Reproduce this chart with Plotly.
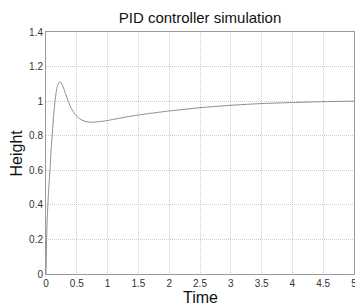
import plotly.graph_objects as go

time = [0, 0.005, 0.01, 0.02, 0.03, 0.045, 0.065, 0.08, 0.1, 0.12, 0.146, 0.165, 0.18, 0.2, 0.22, 0.24, 0.27,
        0.3, 0.33, 0.36, 0.4, 0.45, 0.5, 0.55, 0.6, 0.65, 0.7, 0.75, 0.8, 0.9, 1.0, 1.25, 1.5, 1.75,
        2.0, 2.5, 3.0, 3.5, 4.0, 4.5, 5.0]
height = [0, 0.1, 0.2, 0.32, 0.4, 0.5, 0.6, 0.7, 0.8, 0.9, 1.0, 1.05, 1.08, 1.1, 1.112, 1.108, 1.09,
          1.06, 1.03, 1.0, 0.965, 0.935, 0.912, 0.897, 0.888, 0.882, 0.879, 0.878, 0.879, 0.883, 0.888,
          0.905, 0.92, 0.932, 0.943, 0.962, 0.976, 0.986, 0.992, 0.997, 1.0]

x_ticks = [0, 0.5, 1, 1.5, 2, 2.5, 3, 3.5, 4, 4.5, 5]
y_ticks = [0, 0.2, 0.4, 0.6, 0.8, 1, 1.2, 1.4]

fig = go.Figure()
fig.add_trace(go.Scatter(x=time, y=height, mode="lines",
                         line=dict(color="#8c8c8c", width=1, shape="spline", smoothing=0.6),
                         showlegend=False, hoverinfo="skip"))

font = "Liberation Sans, Arial, Helvetica, sans-serif"
axis_common = dict(showline=True, linecolor="#9a9a9a", linewidth=1, mirror=True,
                   showgrid=True, gridcolor="#cccccc", griddash="1px,1px", gridwidth=1,
                   zeroline=False, ticks="", automargin=False, ticklabeloverflow="allow",
                   tickfont=dict(family=font, size=10, color="#333333"))

fig.update_layout(
    width=355, height=307,
    margin=dict(l=46, r=1, t=32, b=33, autoexpand=False),
    paper_bgcolor="white", plot_bgcolor="white",
    title=dict(text="PID controller simulation", x=0.5, xanchor="center",
               y=1 - 18 / 307, yanchor="middle", xref="paper", yref="container",
               font=dict(family=font, size=15, color="#111111")),
    xaxis=dict(range=[0, 5], tickvals=x_ticks, ticktext=[f"{v:g}" for v in x_ticks],
               **axis_common),
    yaxis=dict(range=[0, 1.4], tickvals=y_ticks, ticktext=[f"{v:g}" for v in y_ticks],
               **axis_common),
    annotations=[
        dict(text="Time", xref="paper", yref="paper", x=(200 - 46) / 308, y=-(297 - 274) / 242,
             xanchor="center", yanchor="middle", showarrow=False,
             font=dict(family=font, size=16, color="#111111")),
        dict(text="Height", xref="paper", yref="paper", x=-(46 - 15.5) / 308, y=0.5,
             xanchor="center", yanchor="middle", showarrow=False, textangle=-90,
             font=dict(family=font, size=16, color="#111111")),
    ],
)

fig.write_html("out.html", config={"displayModeBar": False, "staticPlot": True},
               post_script="document.body.style.margin='0';document.body.style.overflow='hidden';")
